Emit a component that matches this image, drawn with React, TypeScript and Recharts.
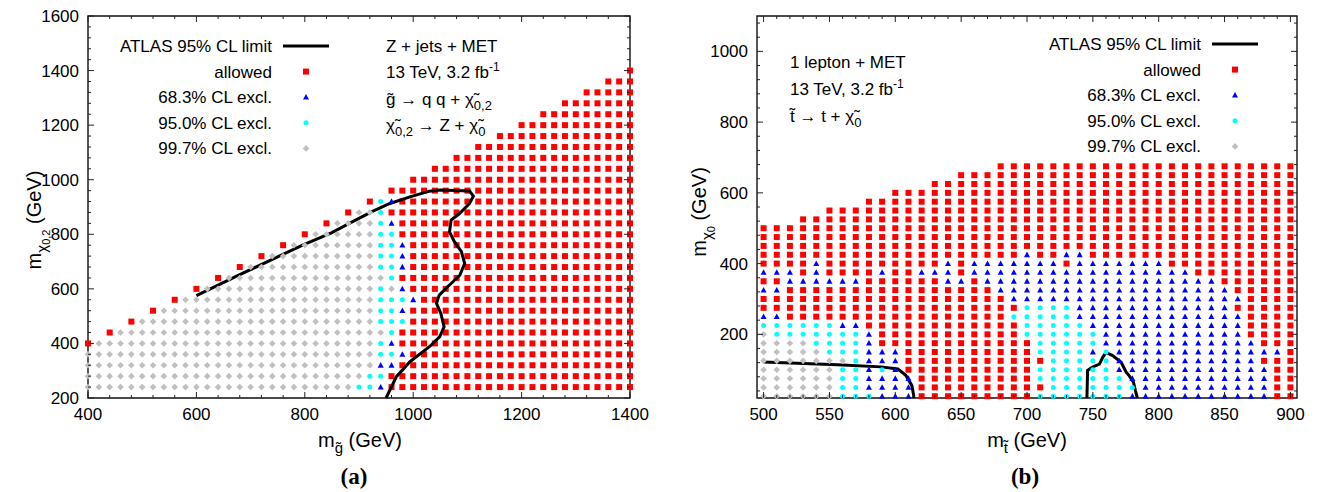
import React from 'react';
import { ScatterChart, Scatter, XAxis, YAxis, ReferenceArea, Legend } from 'recharts';

const FONT = '"Liberation Sans", Arial, Helvetica, sans-serif';

// ---- panel (a): gluino / chi_0,2 grid ----
const gluinoGrid = [
  400, 420, 440, 460, 480, 500, 520, 540, 560, 580, 600, 620, 640, 660, 680, 700, 720,
  740, 760, 780, 800, 820, 840, 860, 880, 900, 920, 940, 960, 980, 1000, 1020, 1040,
  1060, 1080, 1100, 1120, 1140, 1160, 1180, 1200, 1220, 1240, 1260, 1280, 1300, 1320,
  1340, 1360, 1380, 1400,
];

// R = allowed, B = 68.3%, C = 95.0%, G = 99.7% ; runs start at x0
const rowsA = [
  { y: 1400, x0: 1400, runs: 'R1' },
  { y: 1360, x0: 1360, runs: 'R3' },
  { y: 1320, x0: 1320, runs: 'R5' },
  { y: 1280, x0: 1280, runs: 'R7' },
  { y: 1240, x0: 1240, runs: 'R9' },
  { y: 1200, x0: 1200, runs: 'R11' },
  { y: 1160, x0: 1160, runs: 'R13' },
  { y: 1120, x0: 1120, runs: 'R15' },
  { y: 1080, x0: 1080, runs: 'R17' },
  { y: 1040, x0: 1040, runs: 'R19' },
  { y: 1000, x0: 1000, runs: 'R21' },
  { y: 960, x0: 960, runs: 'R23' },
  { y: 920, x0: 920, runs: 'R1 C1 B1 R22' },
  { y: 880, x0: 880, runs: 'R1 G2 C1 R23' },
  { y: 840, x0: 840, runs: 'R1 G4 C1 B1 R22' },
  { y: 800, x0: 800, runs: 'R1 G6 C2 R22' },
  { y: 760, x0: 760, runs: 'R1 G8 C2 B1 R21' },
  { y: 720, x0: 720, runs: 'R1 G10 C2 B1 R21' },
  { y: 680, x0: 680, runs: 'R1 G12 C2 B1 R21' },
  { y: 640, x0: 640, runs: 'R1 G15 C1 R22' },
  { y: 600, x0: 600, runs: 'R1 G16 C1 G1 B1 R21' },
  { y: 560, x0: 560, runs: 'R1 G18 C3 B1 R20' },
  { y: 520, x0: 520, runs: 'R1 G20 C2 B1 R21' },
  { y: 480, x0: 480, runs: 'R1 G22 C3 R21' },
  { y: 440, x0: 440, runs: 'R1 G25 C1 R22' },
  { y: 400, x0: 400, runs: 'R1 G26 C1 B1 R22' },
  { y: 360, x0: 400, runs: 'G27 C2 B1 R21' },
  { y: 320, x0: 400, runs: 'G27 B2 R22' },
  { y: 280, x0: 400, runs: 'G26 C2 R23' },
  { y: 240, x0: 400, runs: 'G25 C2 B1 R23' },
];

const limitA = [
  { x: 950, y: 200 }, { x: 969, y: 278 }, { x: 994, y: 333 }, { x: 1030, y: 388 },
  { x: 1049, y: 425 }, { x: 1057, y: 461 }, { x: 1051, y: 510 }, { x: 1043, y: 547 },
  { x: 1048, y: 577 }, { x: 1067, y: 614 }, { x: 1086, y: 650 }, { x: 1095, y: 693 },
  { x: 1089, y: 736 }, { x: 1076, y: 773 }, { x: 1067, y: 809 }, { x: 1070, y: 852 },
  { x: 1086, y: 877 }, { x: 1104, y: 913 }, { x: 1111, y: 940 }, { x: 1104, y: 959 },
  { x: 1049, y: 962 }, { x: 1030, y: 958 }, { x: 994, y: 937 }, { x: 957, y: 913 },
  { x: 925, y: 884 }, { x: 890, y: 848 }, { x: 849, y: 805 }, { x: 796, y: 760 },
  { x: 744, y: 712 }, { x: 678, y: 650 }, { x: 600, y: 575 },
];

// ---- panel (b): stop / chi_0 grid ----
const stopGrid = [
  500, 510, 520, 530, 540, 550, 560, 570, 580, 590, 600, 610, 620, 630, 640, 650, 660,
  670, 680, 690, 700, 710, 720, 730, 740, 750, 760, 770, 780, 790, 800, 810, 820, 830,
  840, 850, 860, 870, 880, 890, 900,
];

const rowsB = [
  { y: 675, x0: 680, runs: 'R23' },
  { y: 650, x0: 650, runs: 'R26' },
  { y: 625, x0: 630, runs: 'R28' },
  { y: 600, x0: 600, runs: 'R31' },
  { y: 575, x0: 580, runs: 'R33' },
  { y: 550, x0: 550, runs: 'R36' },
  { y: 525, x0: 530, runs: 'R38' },
  { y: 500, x0: 500, runs: 'R41' },
  { y: 475, x0: 500, runs: 'R41' },
  { y: 450, x0: 500, runs: 'R41' },
  { y: 425, x0: 500, runs: 'R20 B1 R2 B2 R16' },
  { y: 400, x0: 500, runs: 'R4 B1 R9 B1 R1 B7 R1 B7 R10' },
  { y: 375, x0: 500, runs: 'B3 R1 B1 R4 B1 R2 B3 R1 B17 R8' },
  { y: 350, x0: 500, runs: 'R2 B6 R6 B2 R1 B18 R6' },
  { y: 325, x0: 500, runs: 'B2 R16 B18 R5' },
  { y: 300, x0: 500, runs: 'R19 B18 R4' },
  { y: 275, x0: 500, runs: 'R20 C4 B12 R5' },
  { y: 250, x0: 500, runs: 'B2 R17 C5 B13 R4' },
  { y: 225, x0: 500, runs: 'C6 B2 R12 C5 B12 R4' },
  { y: 200, x0: 500, runs: 'G1 C7 B1 R11 C6 B11 R4' },
  { y: 175, x0: 500, runs: 'G4 C4 B1 R12 C5 B12 R3' },
  { y: 150, x0: 500, runs: 'G5 C3 B3 R10 C4 B1 C1 B13 R1' },
  { y: 125, x0: 500, runs: 'G7 C1 B3 R11 C5 B11 R3' },
  { y: 100, x0: 500, runs: 'G6 C2 B1 C1 B1 R10 C6 B12 R2' },
  { y: 75, x0: 500, runs: 'G6 C2 B4 R9 C7 B11 R2' },
  { y: 50, x0: 500, runs: 'G6 C2 B4 R10 C7 B10 R2' },
  { y: 25, x0: 500, runs: 'G6 C3 B3 R9 C7 B11 R2' },
];

const limitB1 = [
  { x: 500, y: 122 }, { x: 556, y: 114 }, { x: 589, y: 108 }, { x: 602, y: 102 },
  { x: 608, y: 84 }, { x: 612.6, y: 55 }, { x: 614, y: 27 }, { x: 614, y: 20 },
];
const limitB2 = [
  { x: 745.5, y: 20 }, { x: 746, y: 98 }, { x: 749.5, y: 107 }, { x: 755, y: 116 },
  { x: 757.5, y: 135 }, { x: 760, y: 149 }, { x: 765, y: 140 }, { x: 771.5, y: 121 },
  { x: 775.3, y: 93 }, { x: 777.8, y: 82 }, { x: 780.8, y: 65 }, { x: 782.3, y: 41 },
  { x: 783.8, y: 20 },
];

const legendRows = [
  { label: 'ATLAS 95% CL limit', mark: 'L' },
  { label: 'allowed', mark: 'R' },
  { label: '68.3% CL excl.', mark: 'B' },
  { label: '95.0% CL excl.', mark: 'C' },
  { label: '99.7% CL excl.', mark: 'G' },
];

const majorA_X = [400, 600, 800, 1000, 1200, 1400];
const majorA_Y = [200, 400, 600, 800, 1000, 1200, 1400, 1600];
const majorB_X = [500, 550, 600, 650, 700, 750, 800, 850, 900];
const majorB_Y = [200, 400, 600, 800, 1000];

// tick positions (axis decoration only)
const steps = (a: number, b: number, s: number) => {
  const out: number[] = [];
  for (let v = a; v <= b; v += s) out.push(v);
  return out;
};

type Pt = { x: number; y: number };

function expand(grid: number[], rows: { y: number; x0: number; runs: string }[]) {
  const out: Record<string, Pt[]> = { R: [], B: [], C: [], G: [] };
  rows.forEach(({ y, x0, runs }) => {
    let i = grid.indexOf(x0);
    runs.split(' ').forEach((run) => {
      const cls = run[0];
      const n = parseInt(run.slice(1), 10);
      for (let k = 0; k < n; k++) out[cls].push({ x: grid[i++], y });
    });
  });
  return out;
}

const ptsA = expand(gluinoGrid, rowsA);
const ptsB = expand(stopGrid, rowsB);

const Square = ({ cx, cy }: any) => <rect x={cx - 3} y={cy - 3} width={6} height={6} fill="#ff0000" />;
const Triangle = ({ cx, cy }: any) => (
  <polygon points={`${cx},${cy - 3.2} ${cx - 3},${cy + 2.4} ${cx + 3},${cy + 2.4}`} fill="#0000ff" />
);
const Dot = ({ cx, cy }: any) => <circle cx={cx} cy={cy} r={2.5} fill="#00ffff" />;
const Diamond = ({ cx, cy }: any) => (
  <polygon points={`${cx},${cy - 3.3} ${cx + 3.3},${cy} ${cx},${cy + 3.3} ${cx - 3.3},${cy}`} fill="#c0c0c0" />
);
const NoMark = () => <g />;

const markFor = (m: string, cx: number, cy: number) => {
  if (m === 'R') return <Square cx={cx} cy={cy} />;
  if (m === 'B') return <Triangle cx={cx} cy={cy} />;
  if (m === 'C') return <Dot cx={cx} cy={cy} />;
  if (m === 'G') return <Diamond cx={cx} cy={cy} />;
  return <line x1={cx - 23} x2={cx + 23} y1={cy} y2={cy} stroke="#000" strokeWidth={3} />;
};

const LegendBox = ({ textX, markX }: { textX: number; markX: number }) => (
  <svg width={240} height={136} style={{ overflow: 'visible' }}>
    {legendRows.map((r, i) => {
      const cy = 16 + i * 25.6;
      return (
        <g key={r.label}>
          <text x={textX} y={cy + 6} textAnchor="end" fontSize={17} fontFamily={FONT} fill="#000">
            {r.label}
          </text>
          {markFor(r.mark, markX, cy)}
        </g>
      );
    })}
  </svg>
);

const xTick = (majors: number[], plotH: number) => (p: any) => {
  const { x, y, payload } = p;
  const v = payload.value;
  const major = majors.includes(v);
  const len = major ? 6 : 3;
  return (
    <g>
      <line x1={x} y1={y} x2={x} y2={y - len} stroke="#222" />
      <line x1={x} y1={y - plotH} x2={x} y2={y - plotH + len} stroke="#222" />
      {major && (
        <text x={x} y={y + 22} textAnchor="middle" fontSize={17} fontFamily={FONT} fill="#000">
          {v}
        </text>
      )}
    </g>
  );
};

const yTick = (majors: number[], plotW: number) => (p: any) => {
  const { x, y, payload } = p;
  const v = payload.value;
  const major = majors.includes(v);
  const len = major ? 6 : 3;
  return (
    <g>
      <line x1={x} y1={y} x2={x + len} y2={y} stroke="#222" />
      <line x1={x + plotW} y1={y} x2={x + plotW - len} y2={y} stroke="#222" />
      {major && (
        <text x={x - 9} y={y + 6} textAnchor="end" fontSize={17} fontFamily={FONT} fill="#000">
          {v}
        </text>
      )}
    </g>
  );
};

const axisCommon = {
  type: 'number' as const,
  interval: 0 as const,
  tickLine: false,
  axisLine: false,
  tickSize: 0,
  tickMargin: 0,
};

const limitStyle = { stroke: '#000', strokeWidth: 3 };

function PanelA() {
  return (
    <ScatterChart width={660} height={492} margin={{ top: 16, right: 30, bottom: 64, left: 28 }}>
      <XAxis {...axisCommon} dataKey="x" domain={[400, 1400]} ticks={steps(400, 1400, 40)} tick={xTick(majorA_X, 382)} height={30} />
      <YAxis {...axisCommon} dataKey="y" domain={[200, 1600]} ticks={steps(200, 1600, 40)} tick={yTick(majorA_Y, 542)} width={60} />
      <ReferenceArea x1={400} x2={1400} y1={200} y2={1600} fill="none" stroke="#111" strokeWidth={1.4} />
      <Scatter data={ptsA.R} shape={Square} isAnimationActive={false} />
      <Scatter data={limitA} line={limitStyle} shape={NoMark} isAnimationActive={false} />
      <Scatter data={ptsA.G} shape={Diamond} isAnimationActive={false} />
      <Scatter data={ptsA.C} shape={Dot} isAnimationActive={false} />
      <Scatter data={ptsA.B} shape={Triangle} isAnimationActive={false} />
      <Legend
        layout="vertical"
        align="center"
        verticalAlign="middle"
        wrapperStyle={{ left: 100, top: 30, width: 240, height: 136 }}
        content={() => <LegendBox textX={172} markX={206} />}
      />
    </ScatterChart>
  );
}

const ticksB_Y = steps(40, 1080, 40).concat([200, 400, 600, 800, 1000]).sort((a, b) => a - b).filter((v, i, a) => a.indexOf(v) === i);

function PanelB() {
  return (
    <ScatterChart width={650} height={492} margin={{ top: 16, right: 23, bottom: 64, left: 27 }}>
      <XAxis {...axisCommon} dataKey="x" domain={[495, 905]} ticks={steps(500, 900, 10)} tick={xTick(majorB_X, 382)} height={30} />
      <YAxis {...axisCommon} dataKey="y" domain={[20, 1100]} ticks={ticksB_Y} tick={yTick(majorB_Y, 540)} width={60} />
      <ReferenceArea x1={495} x2={905} y1={20} y2={1100} fill="none" stroke="#111" strokeWidth={1.4} />
      <Scatter data={ptsB.R} shape={Square} isAnimationActive={false} />
      <Scatter data={limitB1} line={limitStyle} shape={NoMark} isAnimationActive={false} />
      <Scatter data={limitB2} line={limitStyle} shape={NoMark} isAnimationActive={false} />
      <Scatter data={ptsB.G} shape={Diamond} isAnimationActive={false} />
      <Scatter data={ptsB.C} shape={Dot} isAnimationActive={false} />
      <Scatter data={ptsB.B} shape={Triangle} isAnimationActive={false} />
      <Legend
        layout="vertical"
        align="center"
        verticalAlign="middle"
        wrapperStyle={{ left: 396, top: 28, width: 240, height: 136 }}
        content={() => <LegendBox textX={135} markX={169} />}
      />
    </ScatterChart>
  );
}

function Notes() {
  const t = { fontFamily: FONT, fill: '#000' };
  return (
    <svg width={1320} height={492} style={{ position: 'absolute', left: 0, top: 0, pointerEvents: 'none' }}>
      {/* panel (a) annotations */}
      <text x={386} y={52} fontSize={17} {...t}>Z + jets + MET</text>
      <text x={386} y={78} fontSize={17} {...t}>
        13 TeV, 3.2 fb<tspan dy={-7} fontSize={12}>-1</tspan>
      </text>
      <text x={386} y={105} fontSize={17} {...t}>
        g̃ → q q + χ̃<tspan dy={5} fontSize={13}>0,2</tspan>
      </text>
      <text x={386} y={131} fontSize={17} {...t}>
        χ̃<tspan dy={5} fontSize={13}>0,2</tspan><tspan dy={-5}> → Z + χ̃</tspan>
        <tspan dy={5} fontSize={13}>0</tspan>
      </text>
      {/* panel (b) annotations */}
      <text x={790} y={68} fontSize={17} {...t}>1 lepton + MET</text>
      <text x={790} y={95} fontSize={17} {...t}>
        13 TeV, 3.2 fb<tspan dy={-7} fontSize={12}>-1</tspan>
      </text>
      <text x={790} y={122} fontSize={17} {...t}>
        t̃ → t + χ̃<tspan dy={5} fontSize={13}>0</tspan>
      </text>
      {/* axis titles */}
      <text x={360} y={447} textAnchor="middle" fontSize={20} {...t}>
        m<tspan dy={6} fontSize={15}>g̃</tspan><tspan dy={-6}> (GeV)</tspan>
      </text>
      <text transform="translate(41,220) rotate(-90)" textAnchor="middle" fontSize={20} {...t}>
        m<tspan dy={6} fontSize={15}>χ</tspan><tspan dy={3} fontSize={11}>0,2</tspan>
        <tspan dy={-9}> (GeV)</tspan>
      </text>
      <text x={1027} y={447} textAnchor="middle" fontSize={20} {...t}>
        m<tspan dy={6} fontSize={15}>t̃</tspan><tspan dy={-6}> (GeV)</tspan>
      </text>
      <text transform="translate(706,212) rotate(-90)" textAnchor="middle" fontSize={20} {...t}>
        m<tspan dy={6} fontSize={15}>χ</tspan><tspan dy={3} fontSize={11}>0</tspan>
        <tspan dy={-9}> (GeV)</tspan>
      </text>
      {/* panel labels */}
      <text x={354} y={484} textAnchor="middle" fontSize={23} fontWeight="bold" fontFamily='"Liberation Serif", "Times New Roman", serif'>(a)</text>
      <text x={1025} y={484} textAnchor="middle" fontSize={23} fontWeight="bold" fontFamily='"Liberation Serif", "Times New Roman", serif'>(b)</text>
    </svg>
  );
}

export default function App() {
  return (
    <div style={{ position: 'absolute', left: 0, top: 0, width: 1320, height: 492, background: '#fff' }}>
      <div style={{ position: 'absolute', left: 0, top: 0 }}>
        <PanelA />
      </div>
      <div style={{ position: 'absolute', left: 670, top: 0 }}>
        <PanelB />
      </div>
      <Notes />
    </div>
  );
}
